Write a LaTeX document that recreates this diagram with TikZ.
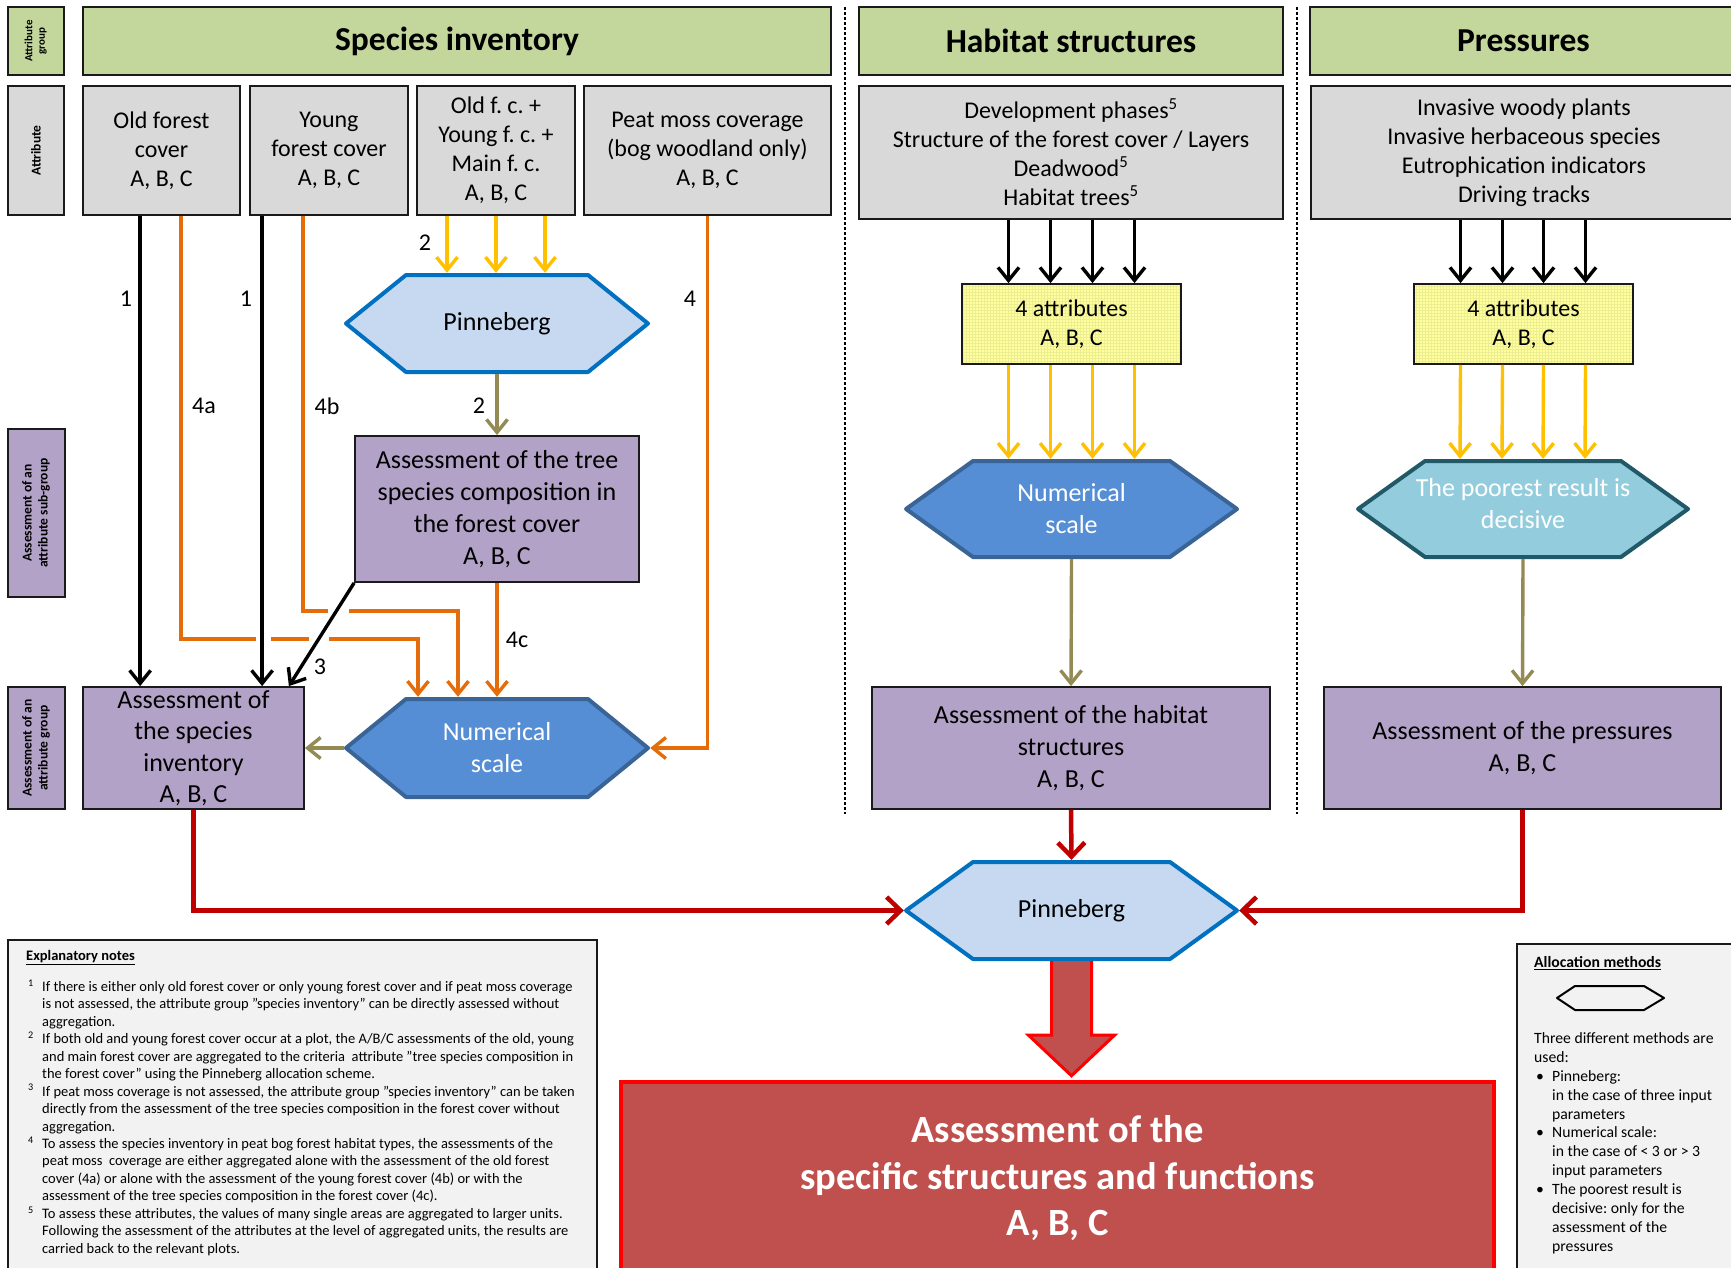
\documentclass[tikz,border=0pt]{standalone}
\usepackage{fontspec}
\usepackage{graphicx}
\setmainfont{Carlito}
\usetikzlibrary{arrows.meta,calc,patterns}

\definecolor{grpgreen}{HTML}{C3D69B}
\definecolor{attrgray}{HTML}{D9D9D9}
\definecolor{lilac}{HTML}{B3A2C7}
\definecolor{notegray}{HTML}{F2F2F2}
\definecolor{pinfill}{HTML}{C6D9F1}
\definecolor{pinline}{HTML}{0070C0}
\definecolor{numfill}{HTML}{558ED5}
\definecolor{numline}{HTML}{3A6496}
\definecolor{poorfill}{HTML}{93CDDD}
\definecolor{poorline}{HTML}{215968}
\definecolor{yelfill}{HTML}{FFFF9C}
\definecolor{yelgrid}{HTML}{EDED94}
\definecolor{orangeC}{HTML}{E46C0A}
\definecolor{yellowC}{HTML}{FFC000}
\definecolor{oliveC}{HTML}{948A54}
\definecolor{redC}{HTML}{C00000}
\definecolor{finalfill}{HTML}{C0504D}
\definecolor{edge}{HTML}{1A1A1A}

\newcommand\notemark[1]{\hspace*{4pt}\textsuperscript{#1}}
\newcommand\bulletmark{\hspace*{2pt}\textbullet}

\begin{document}
\frenchspacing
\begin{tikzpicture}[x=1pt,y=-1pt,
  % a rectangle given by its left, top, right and bottom edges
  span/.style n args={4}{minimum width={(#3)-(#1)}, minimum height={(#4)-(#2)},
    at={({((#1)+(#3))/2},{((#2)+(#4))/2})}},
  box/.style={draw=edge, line width=1.8pt, inner sep=0pt, align=center},
  grp/.style={box, fill=grpgreen, font=\bfseries\fontsize{33.5}{40}\selectfont},
  attr/.style={box, fill=attrgray, font=\fontsize{24}{29}\selectfont},
  assess/.style={box, fill=lilac, font=\fontsize{26}{32}\selectfont},
  side/.style={box, font=\bfseries\fontsize{13.5}{16}\selectfont},
  yelbox/.style={box, preaction={fill=yelfill}, pattern=grid, pattern color=yelgrid,
    font=\fontsize{24}{29}\selectfont},
  hexa/.style n args={3}{inner sep=0pt, align=center, font=\fontsize{26}{32}\selectfont,
    path picture={\path[fill=#2, draw=#3, line width=4pt, line join=round]
      ([xshift=2pt]path picture bounding box.west)
      -- ([xshift=#1+2pt,yshift=-2pt]path picture bounding box.north west)
      -- ([xshift=-#1-2pt,yshift=-2pt]path picture bounding box.north east)
      -- ([xshift=-2pt]path picture bounding box.east)
      -- ([xshift=-#1-2pt,yshift=2pt]path picture bounding box.south east)
      -- ([xshift=#1+2pt,yshift=2pt]path picture bounding box.south west) -- cycle;}},
  arr/.style={line width=3.4pt, -{Straight Barb[length=13pt,width=21pt]}},
  blk/.style={arr, draw=black},
  org/.style={arr, draw=orangeC},
  yel/.style={arr, draw=yellowC},
  olv/.style={arr, draw=oliveC},
  redarr/.style={line width=4.5pt, draw=redC, -{Straight Barb[length=14pt,width=27pt]}},
  lab/.style={inner sep=1pt, font=\fontsize{24}{29}\selectfont},
  sep/.style={line width=1.3pt, dash pattern=on 3pt off 2pt},
]
\fill[white] (0,0) rectangle (1731,1267);
\useasboundingbox (0,0) rectangle (1731,1267);

% ---------- row labels on the left ----------
\node[side, fill=grpgreen, span={8}{7}{64}{75}, font=\bfseries\fontsize{11}{12.5}\selectfont] (gHead)
  {\rotatebox{90}{\begin{tabular}{@{}c@{}}Attribute\\group\end{tabular}}};
\node[side, fill=attrgray, span={8}{86}{64}{215}] (gAttr) {\rotatebox{90}{Attribute}};
\node[side, fill=lilac, span={8}{429}{65}{597}] (gSub)
  {\rotatebox{90}{\begin{tabular}{@{}c@{}}Assessment of an\\attribute sub-group\end{tabular}}};
\node[side, fill=lilac, span={8}{687}{65}{809}] (gGrp)
  {\rotatebox{90}{\begin{tabular}{@{}c@{}}Assessment of an\\attribute group\end{tabular}}};

% ---------- attribute groups ----------
\node[grp, span={83}{7}{831}{75}] (hSI) {Species inventory};
\node[grp, span={859}{7}{1283}{75}] (hHS) {Habitat structures};
\node[grp, span={1310}{7}{1737}{75}] (hPR) {Pressures};

% ---------- attributes ----------
\node[attr, span={83}{86}{240}{215}] (aOld) {Old forest\\cover\\A, B, C};
\node[attr, span={250}{86}{408}{215}] (aYoung) {Young\\forest cover\\A, B, C};
\node[attr, span={417}{86}{575}{215}] (aMix) {Old f. c. +\\Young f. c. +\\Main f. c.\\A, B, C};
\node[attr, span={584}{86}{831}{215}] (aPeat) {Peat moss coverage\\(bog woodland only)\\A, B, C};
\node[attr, span={859}{86}{1283}{219}] (aDev) {Development phases\textsuperscript{5}\\Structure of the forest cover / Layers\\Deadwood\textsuperscript{5}\\Habitat trees\textsuperscript{5}};
\node[attr, span={1311}{86}{1737}{219}] (aInv) {Invasive woody plants\\Invasive herbaceous species\\Eutrophication indicators\\Driving tracks};

% ---------- species inventory column ----------
\node[hexa={60pt}{pinfill}{pinline}, span={344}{273}{650}{374}] (pin1) {Pinneberg};
\node[assess, span={355}{436}{639}{582}] (tree) {Assessment of the tree\\species composition in\\the forest cover\\A, B, C};
\node[hexa={60pt}{numfill}{numline}, span={344}{697}{650}{799}, text=white] (num1) {Numerical\\scale};
\node[assess, span={83}{687}{304}{809}, font=\fontsize{26}{31.5}\selectfont] (sia) {Assessment of\\the species\\inventory\\A, B, C};

% ---------- habitat structures column ----------
\node[yelbox, span={962}{284}{1181}{364}] (ya1) {4 attributes\\A, B, C};
\node[hexa={67pt}{numfill}{numline}, span={904}{459}{1239}{559}, text=white] (num2) {Numerical\\scale};
\node[assess, span={872}{687}{1270}{809}] (hsa) {Assessment of the habitat\\structures\\A, B, C};

% ---------- pressures column ----------
\node[yelbox, span={1414}{284}{1633}{364}] (ya2) {4 attributes\\A, B, C};
\node[hexa={67pt}{poorfill}{poorline}, span={1356}{459}{1690}{559}, text=white] (poor) {The poorest result is\\decisive\rule[-12pt]{0pt}{1pt}};
\node[assess, span={1324}{687}{1721}{809}] (pra) {Assessment of the pressures\\A, B, C};

% ---------- overall result ----------
\node[hexa={67pt}{pinfill}{pinline}, span={904}{860}{1239}{961}] (pin2) {Pinneberg};
\node[span={621}{1082}{1494}{1275}, inner sep=0pt, fill=finalfill, draw=red, line width=4.5pt,
  text=white, align=center, font=\bfseries\fontsize{38.5}{46.5}\selectfont] (final)
  {Assessment of the\\specific structures and functions\\A, B, C};
\path[fill=finalfill, draw=red, line width=3pt, line join=miter]
  ($(pin2.south)+(-20,0)$) -- ($(pin2.south)+(-20,74)$) -- ($(pin2.south)+(-43,74)$)
  -- ($(pin2.south |- final.north)+(0,-4)$)
  -- ($(pin2.south)+(43,74)$) -- ($(pin2.south)+(20,74)$) -- ($(pin2.south)+(20,0)$);

% ---------- column separators ----------
\draw[sep] (845,7) -- (845,814);
\draw[sep] (1297,7) -- (1297,814);

% ---------- connectors: species inventory ----------
\coordinate (o1) at ([xshift=58pt]aOld.south west);
\coordinate (o4a) at ([xshift=99pt]aOld.south west);
\coordinate (y1) at ([xshift=13pt]aYoung.south west);
\coordinate (y4b) at ([xshift=54pt]aYoung.south west);
\coordinate (k4a) at (418,639);
\coordinate (k4b) at (458,611);

\draw[org] (o4a) |- (k4a) -- (k4a |- num1.north);
\draw[org] (y4b) |- (k4b) -- (k4b |- num1.north);
\draw[org] (tree.south) -- (num1.north);
\draw[org] (aPeat.south) |- (num1.east);

% gaps where the black arrows cross the orange lines
\fill[white] (256,633) rectangle (271,645);
\fill[white] (309,633) rectangle (329,645);
\fill[white] (328,605) rectangle (349,617);

\draw[blk] (o1) -- (o1 |- sia.north);
\draw[blk] (y1) -- (y1 |- sia.north);
\draw[blk] (tree.south west) -- ([xshift=-16pt]sia.north east);

\foreach \dx in {-49,0,49} {
  \coordinate (t) at ([xshift=\dx pt]aMix.south);
  \draw[yel] (t) -- (t |- pin1.north);
}
\draw[olv] (pin1.south) -- (tree.north);
\draw[olv] (num1.west) -- (sia.east);

% ---------- connectors: habitat structures and pressures ----------
\foreach \dx in {-63,-21,21,63} {
  \coordinate (t) at ([xshift=\dx pt]ya1.north);
  \draw[blk] (t |- aDev.south) -- (t);
  \draw[yel] ([xshift=\dx pt]ya1.south) -- ([xshift=\dx pt]num2.north);
}
\foreach \dx in {-63,-21,20,62} {
  \coordinate (t) at ([xshift=\dx pt]ya2.north);
  \draw[blk] (t |- aInv.south) -- (t);
  \draw[yel] ([xshift=\dx pt]ya2.south) -- ([xshift=\dx pt]poor.north);
}
\draw[olv] (num2.south) -- (hsa.north);
\draw[olv] (poor.south) -- (pra.north);

% ---------- connectors into the overall assessment ----------
\draw[redarr] (hsa.south) -- (pin2.north);
\draw[redarr] (sia.south) |- (pin2.west);
\draw[redarr] (pra.south) |- (pin2.east);

% ---------- connector labels ----------
\node[lab] (l1a) at (126,299) {1};
\node[lab] (l1b) at (246,299) {1};
\node[lab] (l2a) at (425,243) {2};
\node[lab] (l4) at (690,299) {4};
\node[lab] (l4a) at (204,406) {4a};
\node[lab] (l4b) at (327,406) {4b};
\node[lab] (l2b) at (479,406) {2};
\node[lab] (l3) at (320,667) {3};
\node[lab] (l4c) at (517,640) {4c};

% ---------- explanatory notes ----------
\node[box, fill=notegray, span={8}{940}{597}{1280}] (notes) {};
\node[anchor=west, inner sep=0pt, font=\bfseries\fontsize{14.5}{17}\selectfont] (notesT) at (26,958)
  {\underline{Explanatory notes}};
\node[anchor=north west, inner sep=0pt, font=\fontsize{14.5}{17.45}\selectfont] (notesTxt) at (24,979) {%
\begin{tabular}{@{}p{18pt}@{}l@{}}
\notemark{1} & If there is either only old forest cover or only young forest cover and if peat moss coverage\\
 & is not assessed, the attribute group "species inventory" can be directly assessed without\\
 & aggregation.\\
\notemark{2} & If both old and young forest cover occur at a plot, the A/B/C assessments of the old, young\\
 & and main forest cover are aggregated to the criteria~ attribute "tree species composition in\\
 & the forest cover" using the Pinneberg allocation scheme.\\
\notemark{3} & If peat moss coverage is not assessed, the attribute group "species inventory" can be taken\\
 & directly from the assessment of the tree species composition in the forest cover without\\
 & aggregation.\\
\notemark{4} & To assess the species inventory in peat bog forest habitat types, the assessments of the\\
 & peat moss~ coverage are either aggregated alone with the assessment of the old forest\\
 & cover (4a) or alone with the assessment of the young forest cover (4b) or with the\\
 & assessment of the tree species composition in the forest cover (4c).\\
\notemark{5} & To assess these attributes, the values of many single areas are aggregated to larger units.\\
 & Following the assessment of the attributes at the level of aggregated units, the results are\\
 & carried back to the relevant plots.
\end{tabular}};

% ---------- allocation methods ----------
\node[box, fill=notegray, span={1517}{944}{1745}{1280}] (alloc) {};
\node[anchor=west, inner sep=0pt, font=\bfseries\fontsize{15.7}{18}\selectfont] (allocT) at (1534,963)
  {\underline{Allocation methods}};
\draw[line width=2pt, line join=round] (1557,998) -- (1575,986) -- (1644,986) -- (1664,998)
  -- (1644,1010) -- (1575,1010) -- cycle;
\node[anchor=north west, inner sep=0pt, font=\fontsize{15.7}{18.9}\selectfont] (allocTxt) at (1534,1030) {%
\begin{tabular}{@{}p{18pt}@{}l@{}}
\multicolumn{2}{@{}l@{}}{Three different methods are}\\
\multicolumn{2}{@{}l@{}}{used:}\\
\bulletmark & Pinneberg:\\
 & in the case of three input\\
 & parameters\\
\bulletmark & Numerical scale:\\
 & in the case of < 3 or > 3\\
 & input parameters\\
\bulletmark & The poorest result is\\
 & decisive: only for the\\
 & assessment of the\\
 & pressures
\end{tabular}};
\end{tikzpicture}
\end{document}
